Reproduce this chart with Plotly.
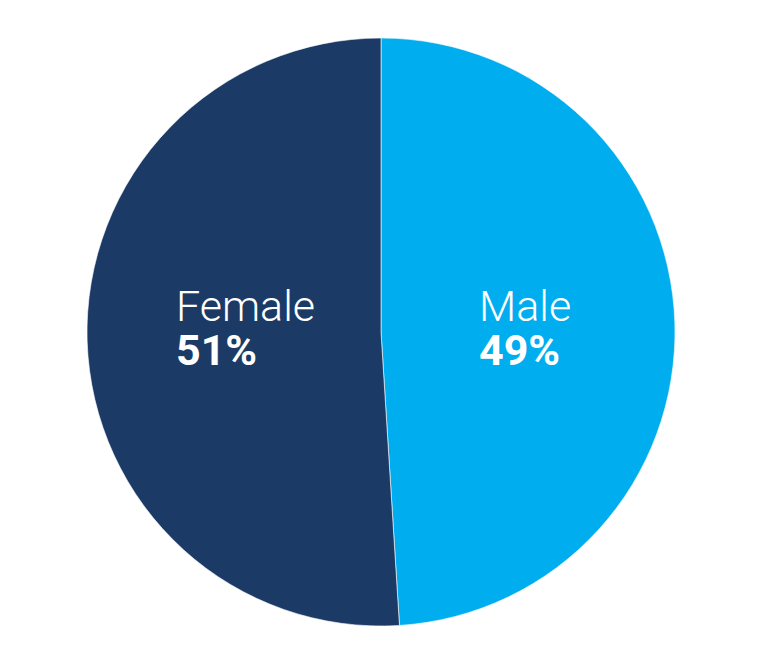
import plotly.graph_objects as go

labels = ["Male", "Female"]
values = [49, 51]
colors = ["#00AEEF", "#1B3A66"]

W, H = 768, 655
OFF = 8  # page body margin
cx, cy, r = 381 - OFF, 332 - OFF, 294

fig = go.Figure(go.Pie(
    labels=labels,
    values=values,
    sort=False,
    direction="clockwise",
    rotation=0,
    marker=dict(colors=colors, line=dict(color="rgba(255,255,255,0.6)", width=1)),
    textinfo="none",
    hoverinfo="label+percent",
    domain=dict(x=[(cx - r) / W, (cx + r) / W], y=[1 - (cy + r) / H, 1 - (cy - r) / H]),
    showlegend=False,
))

# label positions (left edge of text block, in pixels)
label_x = {"Female": 178 - OFF - 4, "Male": 481 - OFF - 4}
for lab, val in zip(labels, values):
    fig.add_annotation(
        x=label_x[lab] / W, y=1 - (306 - OFF) / H, xref="paper", yref="paper",
        xanchor="left", yanchor="middle", align="left", valign="middle",
        showarrow=False, height=40,
        text=lab,
        font=dict(family="Roboto", size=43, color="white", weight=300),
    )
    fig.add_annotation(
        x=label_x[lab] / W, y=1 - (350 - OFF) / H, xref="paper", yref="paper",
        xanchor="left", yanchor="middle", align="left", valign="middle",
        showarrow=False, height=40,
        text=f"{val}%",
        font=dict(family="Roboto", size=43, color="white", weight=700),
    )

fig.update_layout(
    width=W, height=H,
    margin=dict(l=0, r=0, t=0, b=0),
    paper_bgcolor="white", plot_bgcolor="white",
)

fig.write_html("out.html")
